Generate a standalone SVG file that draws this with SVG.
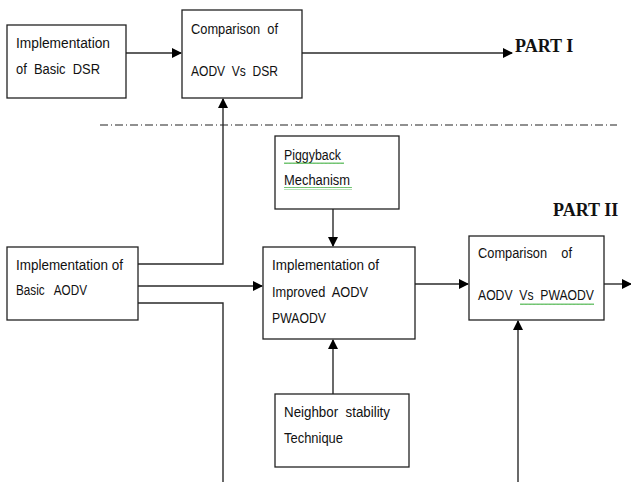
<svg xmlns="http://www.w3.org/2000/svg" width="631" height="482" viewBox="0 0 631 482">
<style>
.box{fill:#fff;stroke:#222;stroke-width:1.3}
.t{font-family:"Liberation Sans",Arial,sans-serif;font-size:14px;fill:#111}
.p{font-family:"Liberation Serif","Times New Roman",serif;font-size:18px;font-weight:bold;fill:#111}
.c{fill:none;stroke:#2a2a2a;stroke-width:1.4}
</style>
<defs>
<marker id="ah" markerWidth="10" markerHeight="10" refX="9" refY="5" orient="auto" markerUnits="userSpaceOnUse">
<path d="M0,0 L10,5 L0,10 z" fill="#000"/>
</marker>
<pattern id="wv" width="4" height="3" patternUnits="userSpaceOnUse"><path d="M0,2 L1,0.5 L2,2 L3,0.5 L4,2" fill="none" stroke="#3a3" stroke-width="0.8"/></pattern>
</defs>
<g id="connectors">
<line class="c" x1="126" y1="53" x2="181" y2="53" marker-end="url(#ah)"/>
<line class="c" x1="302" y1="53" x2="512" y2="53" marker-end="url(#ah)"/>
<line x1="100" y1="125" x2="617" y2="125" stroke="#222" stroke-width="1.2" stroke-dasharray="8,3,1,3"/>
<polyline class="c" points="138,264 223,264 223,99" marker-end="url(#ah)"/>
<line class="c" x1="138" y1="286" x2="262" y2="286" marker-end="url(#ah)"/>
<polyline class="c" points="138,303 223,303 223,482"/>
<line class="c" x1="333" y1="209" x2="333" y2="246" marker-end="url(#ah)"/>
<line class="c" x1="333" y1="394" x2="333" y2="340" marker-end="url(#ah)"/>
<line class="c" x1="415" y1="284" x2="468" y2="284" marker-end="url(#ah)"/>
<line class="c" x1="604" y1="284" x2="631" y2="284" marker-end="url(#ah)"/>
<line class="c" x1="518" y1="482" x2="518" y2="321" marker-end="url(#ah)"/>
</g>
<g id="n-basic-dsr">
<rect class="box" x="7" y="25" width="119" height="73"/>
<text class="t" x="16" y="48" textLength="94" lengthAdjust="spacingAndGlyphs">Implementation</text>
<text class="t" x="16" y="74" xml:space="preserve" textLength="84" lengthAdjust="spacingAndGlyphs">of  Basic  DSR</text>
</g>
<g id="n-cmp-dsr">
<rect class="box" x="182" y="10" width="120" height="88"/>
<text class="t" x="191" y="34" xml:space="preserve" textLength="87" lengthAdjust="spacingAndGlyphs">Comparison  of</text>
<text class="t" x="191" y="76" xml:space="preserve" textLength="87" lengthAdjust="spacingAndGlyphs">AODV  Vs  DSR</text>
</g>
<text class="p" x="515" y="52">PART I</text>
<text class="p" x="553" y="216">PART II</text>
<g id="n-piggyback">
<rect class="box" x="275" y="136" width="124" height="73"/>
<text class="t" x="284" y="160" textLength="57" lengthAdjust="spacingAndGlyphs">Piggyback</text>
<text class="t" x="284" y="185" textLength="66" lengthAdjust="spacingAndGlyphs">Mechanism</text>
<rect x="284" y="162" width="60" height="3" fill="url(#wv)"/>
<rect x="284" y="187" width="68" height="3" fill="url(#wv)"/>
</g>
<g id="n-basic-aodv">
<rect class="box" x="7" y="247" width="131" height="73"/>
<text class="t" x="16" y="270" textLength="107" lengthAdjust="spacingAndGlyphs">Implementation of</text>
<text class="t" x="16" y="295" xml:space="preserve" textLength="71" lengthAdjust="spacingAndGlyphs">Basic   AODV</text>
</g>
<g id="n-improved">
<rect class="box" x="263" y="247" width="152" height="92"/>
<text class="t" x="272" y="270" textLength="107" lengthAdjust="spacingAndGlyphs">Implementation of</text>
<text class="t" x="272" y="297" xml:space="preserve" textLength="96" lengthAdjust="spacingAndGlyphs">Improved  AODV</text>
<text class="t" x="272" y="323" textLength="54" lengthAdjust="spacingAndGlyphs">PWAODV</text>
</g>
<g id="n-cmp-pw">
<rect class="box" x="469" y="236" width="135" height="84"/>
<text class="t" x="478" y="258" xml:space="preserve" textLength="94" lengthAdjust="spacingAndGlyphs">Comparison    of</text>
<text class="t" x="478" y="300" xml:space="preserve" textLength="116" lengthAdjust="spacingAndGlyphs">AODV  Vs  PWAODV</text>
<rect x="520" y="302" width="74" height="3" fill="url(#wv)"/>
</g>
<g id="n-neighbor">
<rect class="box" x="275" y="394" width="134" height="73"/>
<text class="t" x="284" y="417" xml:space="preserve" textLength="106" lengthAdjust="spacingAndGlyphs">Neighbor  stability</text>
<text class="t" x="284" y="443" textLength="59" lengthAdjust="spacingAndGlyphs">Technique</text>
</g>
</svg>
